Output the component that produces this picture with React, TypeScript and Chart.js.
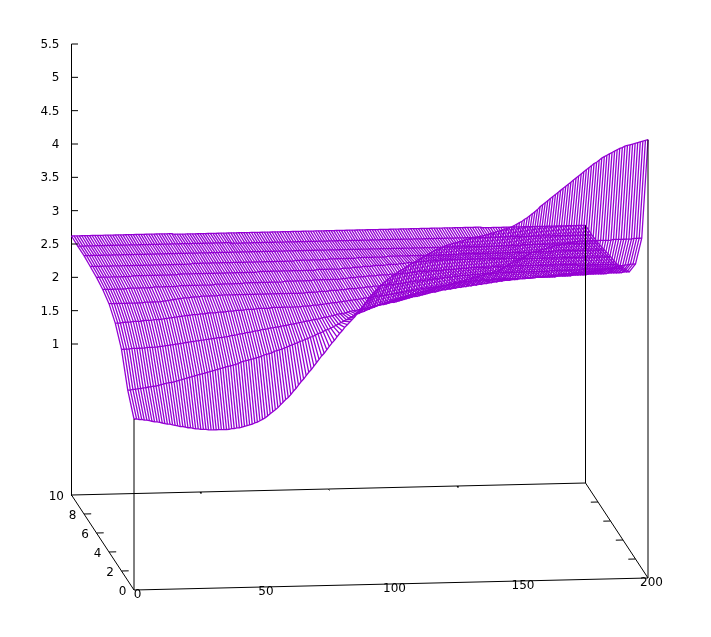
import React, { useEffect, useRef } from "react";
import { Chart, registerables } from "chart.js";

Chart.register(...registerables);

// Surface heights z, one list per y row (0..10), sampled at x = 0,1,...,200
const row0 = [
  1.30,1.30,1.29,1.29,1.28,1.28,1.27,1.26,1.25,1.25,
  1.24,1.23,1.22,1.21,1.21,1.20,1.19,1.18,1.17,1.17,
  1.16,1.15,1.15,1.14,1.13,1.13,1.12,1.12,1.12,1.11,
  1.11,1.11,1.11,1.11,1.11,1.11,1.11,1.11,1.12,1.12,
  1.13,1.13,1.14,1.15,1.16,1.17,1.18,1.20,1.21,1.23,
  1.25,1.27,1.30,1.33,1.36,1.39,1.42,1.46,1.50,1.54,
  1.57,1.61,1.66,1.70,1.75,1.80,1.84,1.89,1.94,1.98,
  2.03,2.08,2.13,2.18,2.22,2.27,2.32,2.37,2.41,2.46,
  2.51,2.55,2.60,2.64,2.68,2.72,2.76,2.81,2.86,2.91,
  2.96,3.01,3.06,3.10,3.14,3.18,3.22,3.25,3.28,3.31,
  3.34,3.37,3.39,3.42,3.44,3.46,3.49,3.51,3.53,3.55,
  3.58,3.60,3.62,3.64,3.66,3.68,3.70,3.72,3.74,3.75,
  3.77,3.79,3.80,3.81,3.82,3.83,3.84,3.85,3.86,3.87,
  3.88,3.89,3.90,3.91,3.91,3.92,3.93,3.94,3.95,3.96,
  3.97,3.98,3.99,4.00,4.01,4.03,4.04,4.05,4.07,4.09,
  4.11,4.13,4.16,4.18,4.21,4.24,4.27,4.30,4.34,4.37,
  4.40,4.43,4.46,4.49,4.52,4.55,4.58,4.61,4.64,4.67,
  4.70,4.73,4.76,4.79,4.82,4.85,4.88,4.91,4.94,4.97,
  4.99,5.02,5.05,5.07,5.09,5.11,5.13,5.15,5.17,5.19,
  5.20,5.22,5.23,5.24,5.25,5.26,5.27,5.28,5.29,5.30,
  5.31,
];
const row1 = [
  1.59,1.59,1.60,1.60,1.61,1.61,1.62,1.62,1.63,1.63,
  1.64,1.64,1.65,1.66,1.67,1.68,1.69,1.69,1.70,1.71,
  1.72,1.73,1.74,1.75,1.76,1.77,1.78,1.79,1.80,1.81,
  1.82,1.83,1.84,1.85,1.86,1.87,1.88,1.89,1.90,1.91,
  1.92,1.93,1.94,1.95,1.97,1.98,1.99,2.00,2.01,2.02,
  2.03,2.04,2.05,2.07,2.08,2.09,2.10,2.12,2.13,2.14,
  2.15,2.17,2.18,2.20,2.21,2.23,2.24,2.26,2.27,2.29,
  2.30,2.32,2.33,2.35,2.37,2.38,2.40,2.42,2.43,2.45,
  2.47,2.49,2.51,2.53,2.55,2.57,2.59,2.61,2.63,2.65,
  2.66,2.68,2.69,2.71,2.72,2.74,2.75,2.77,2.78,2.79,
  2.81,2.82,2.83,2.84,2.86,2.87,2.88,2.89,2.90,2.91,
  2.92,2.93,2.94,2.95,2.96,2.97,2.98,2.99,3.00,3.01,
  3.02,3.03,3.04,3.05,3.05,3.06,3.07,3.08,3.09,3.10,
  3.11,3.12,3.13,3.14,3.15,3.16,3.17,3.18,3.19,3.20,
  3.21,3.22,3.23,3.24,3.25,3.27,3.29,3.31,3.33,3.35,
  3.37,3.39,3.41,3.43,3.45,3.47,3.49,3.51,3.52,3.53,
  3.54,3.55,3.56,3.57,3.58,3.59,3.60,3.61,3.62,3.63,
  3.63,3.64,3.65,3.65,3.66,3.66,3.67,3.67,3.67,3.67,
  3.67,3.67,3.67,3.67,3.67,3.67,3.67,3.67,3.67,3.68,
  3.68,3.68,3.68,3.68,3.68,3.68,3.68,3.69,3.69,3.69,
  3.69,
];
const row2 = [
  2.06,2.06,2.06,2.06,2.07,2.07,2.07,2.07,2.07,2.07,
  2.08,2.08,2.08,2.08,2.08,2.09,2.09,2.10,2.10,2.11,
  2.11,2.12,2.12,2.13,2.13,2.14,2.14,2.15,2.15,2.16,
  2.16,2.17,2.17,2.18,2.18,2.19,2.19,2.20,2.20,2.20,
  2.21,2.21,2.22,2.23,2.23,2.24,2.25,2.25,2.26,2.27,
  2.27,2.28,2.29,2.29,2.30,2.31,2.31,2.32,2.33,2.33,
  2.34,2.34,2.35,2.36,2.36,2.37,2.38,2.38,2.39,2.40,
  2.40,2.41,2.42,2.42,2.43,2.44,2.44,2.45,2.46,2.47,
  2.47,2.48,2.49,2.50,2.51,2.52,2.52,2.53,2.54,2.55,
  2.56,2.56,2.57,2.58,2.59,2.59,2.60,2.61,2.62,2.62,
  2.63,2.64,2.64,2.65,2.66,2.67,2.67,2.68,2.69,2.70,
  2.71,2.72,2.73,2.74,2.75,2.75,2.76,2.77,2.78,2.79,
  2.80,2.81,2.81,2.82,2.83,2.84,2.84,2.85,2.85,2.86,
  2.86,2.87,2.87,2.88,2.88,2.89,2.89,2.90,2.90,2.91,
  2.91,2.92,2.92,2.93,2.93,2.94,2.94,2.95,2.95,2.96,
  2.96,2.96,2.97,2.97,2.97,2.98,2.98,2.98,2.99,2.99,
  2.99,2.99,3.00,3.00,3.00,3.01,3.01,3.01,3.02,3.02,
  3.02,3.03,3.03,3.04,3.04,3.04,3.05,3.05,3.05,3.06,
  3.06,3.06,3.07,3.07,3.07,3.08,3.08,3.09,3.09,3.10,
  3.10,3.11,3.12,3.13,3.14,3.14,3.15,3.15,3.16,3.16,
  3.16,
];
const row3 = [
  2.31,2.31,2.31,2.32,2.32,2.32,2.32,2.33,2.33,2.33,
  2.33,2.34,2.34,2.34,2.34,2.35,2.35,2.35,2.35,2.36,
  2.36,2.37,2.37,2.38,2.38,2.39,2.39,2.40,2.40,2.40,
  2.41,2.41,2.41,2.42,2.42,2.42,2.43,2.43,2.43,2.43,
  2.44,2.44,2.44,2.44,2.45,2.45,2.45,2.46,2.46,2.46,
  2.46,2.47,2.47,2.47,2.47,2.48,2.48,2.48,2.48,2.48,
  2.48,2.49,2.49,2.49,2.49,2.49,2.49,2.49,2.49,2.49,
  2.49,2.49,2.49,2.50,2.50,2.50,2.50,2.51,2.51,2.51,
  2.52,2.52,2.53,2.53,2.54,2.54,2.54,2.55,2.55,2.56,
  2.56,2.57,2.57,2.58,2.58,2.59,2.59,2.60,2.60,2.61,
  2.61,2.62,2.62,2.63,2.63,2.64,2.64,2.65,2.65,2.66,
  2.66,2.67,2.67,2.68,2.69,2.69,2.70,2.70,2.71,2.72,
  2.72,2.73,2.73,2.74,2.74,2.75,2.75,2.76,2.76,2.77,
  2.78,2.78,2.79,2.79,2.80,2.80,2.81,2.81,2.81,2.82,
  2.82,2.82,2.83,2.83,2.83,2.83,2.83,2.84,2.84,2.84,
  2.84,2.84,2.84,2.84,2.84,2.84,2.84,2.84,2.84,2.84,
  2.84,2.84,2.85,2.85,2.85,2.85,2.85,2.85,2.85,2.85,
  2.85,2.85,2.86,2.86,2.86,2.86,2.86,2.86,2.87,2.87,
  2.87,2.87,2.87,2.87,2.88,2.88,2.88,2.88,2.88,2.88,
  2.88,2.88,2.89,2.89,2.89,2.89,2.89,2.89,2.90,2.90,
  2.90,
];
const row4 = [
  2.46,2.46,2.46,2.46,2.46,2.46,2.46,2.46,2.46,2.46,
  2.46,2.46,2.46,2.46,2.47,2.47,2.47,2.47,2.47,2.47,
  2.47,2.48,2.48,2.49,2.49,2.50,2.50,2.51,2.51,2.52,
  2.52,2.52,2.53,2.53,2.53,2.53,2.54,2.54,2.54,2.54,
  2.54,2.54,2.54,2.55,2.55,2.55,2.55,2.55,2.55,2.55,
  2.55,2.55,2.55,2.55,2.55,2.55,2.55,2.55,2.55,2.55,
  2.55,2.55,2.55,2.55,2.55,2.55,2.55,2.55,2.55,2.55,
  2.55,2.55,2.55,2.55,2.55,2.55,2.55,2.56,2.56,2.56,
  2.56,2.56,2.57,2.57,2.57,2.57,2.58,2.58,2.58,2.58,
  2.59,2.59,2.59,2.60,2.60,2.60,2.60,2.61,2.61,2.61,
  2.62,2.62,2.62,2.63,2.63,2.63,2.64,2.64,2.64,2.65,
  2.65,2.65,2.66,2.66,2.66,2.67,2.67,2.68,2.68,2.69,
  2.69,2.69,2.70,2.70,2.71,2.71,2.72,2.72,2.72,2.73,
  2.73,2.74,2.74,2.74,2.75,2.75,2.75,2.76,2.76,2.76,
  2.76,2.77,2.77,2.77,2.77,2.78,2.78,2.78,2.78,2.78,
  2.78,2.78,2.79,2.79,2.79,2.79,2.79,2.79,2.79,2.79,
  2.79,2.79,2.79,2.79,2.79,2.79,2.79,2.79,2.79,2.79,
  2.79,2.79,2.80,2.80,2.80,2.80,2.80,2.80,2.80,2.80,
  2.80,2.80,2.80,2.80,2.81,2.81,2.81,2.81,2.81,2.81,
  2.81,2.81,2.81,2.81,2.81,2.81,2.81,2.81,2.81,2.81,
  2.82,
];
const row5 = [
  2.53,2.53,2.53,2.53,2.53,2.53,2.53,2.53,2.53,2.53,
  2.54,2.54,2.54,2.54,2.54,2.54,2.54,2.54,2.54,2.54,
  2.55,2.55,2.55,2.55,2.55,2.55,2.55,2.55,2.55,2.55,
  2.56,2.56,2.56,2.56,2.56,2.56,2.56,2.56,2.56,2.56,
  2.56,2.56,2.56,2.56,2.57,2.57,2.57,2.57,2.57,2.57,
  2.57,2.57,2.57,2.57,2.57,2.58,2.58,2.58,2.58,2.58,
  2.58,2.58,2.58,2.58,2.58,2.58,2.58,2.58,2.58,2.58,
  2.58,2.59,2.59,2.59,2.59,2.59,2.59,2.59,2.59,2.59,
  2.59,2.59,2.60,2.60,2.60,2.60,2.60,2.60,2.60,2.60,
  2.60,2.60,2.60,2.61,2.61,2.61,2.62,2.62,2.62,2.63,
  2.63,2.63,2.63,2.64,2.64,2.64,2.64,2.65,2.65,2.65,
  2.65,2.65,2.66,2.66,2.66,2.66,2.67,2.67,2.67,2.67,
  2.68,2.68,2.68,2.69,2.69,2.69,2.69,2.69,2.70,2.70,
  2.70,2.70,2.70,2.71,2.71,2.71,2.71,2.71,2.72,2.72,
  2.72,2.72,2.72,2.73,2.73,2.73,2.73,2.73,2.73,2.73,
  2.73,2.73,2.74,2.74,2.74,2.74,2.74,2.74,2.74,2.74,
  2.74,2.74,2.74,2.74,2.74,2.74,2.74,2.74,2.74,2.74,
  2.74,2.74,2.74,2.74,2.74,2.74,2.74,2.74,2.74,2.74,
  2.74,2.74,2.74,2.74,2.74,2.73,2.73,2.73,2.73,2.73,
  2.73,2.73,2.73,2.73,2.73,2.73,2.73,2.73,2.73,2.73,
  2.73,
];
const row6 = [
  2.57,2.57,2.57,2.57,2.57,2.57,2.57,2.57,2.57,2.57,
  2.57,2.57,2.57,2.57,2.58,2.58,2.58,2.58,2.58,2.58,
  2.58,2.58,2.58,2.58,2.58,2.58,2.58,2.58,2.58,2.58,
  2.58,2.58,2.59,2.59,2.59,2.59,2.59,2.59,2.59,2.59,
  2.59,2.59,2.59,2.59,2.59,2.59,2.59,2.59,2.59,2.59,
  2.59,2.59,2.59,2.59,2.59,2.59,2.59,2.59,2.59,2.59,
  2.59,2.59,2.59,2.60,2.60,2.60,2.60,2.60,2.60,2.60,
  2.60,2.60,2.60,2.60,2.60,2.60,2.60,2.60,2.60,2.60,
  2.60,2.60,2.60,2.60,2.60,2.60,2.61,2.61,2.61,2.61,
  2.61,2.61,2.61,2.61,2.61,2.61,2.62,2.62,2.62,2.62,
  2.63,2.63,2.63,2.63,2.64,2.64,2.64,2.64,2.65,2.65,
  2.65,2.65,2.65,2.66,2.66,2.66,2.66,2.66,2.67,2.67,
  2.67,2.68,2.68,2.68,2.68,2.69,2.69,2.69,2.69,2.70,
  2.70,2.70,2.70,2.70,2.71,2.71,2.71,2.71,2.71,2.71,
  2.71,2.71,2.71,2.71,2.71,2.71,2.71,2.71,2.71,2.71,
  2.71,2.71,2.71,2.71,2.71,2.71,2.71,2.71,2.71,2.71,
  2.71,2.71,2.71,2.71,2.70,2.70,2.70,2.70,2.70,2.70,
  2.70,2.70,2.70,2.70,2.70,2.70,2.70,2.70,2.70,2.70,
  2.70,2.70,2.70,2.70,2.70,2.70,2.70,2.70,2.70,2.70,
  2.70,2.70,2.70,2.70,2.70,2.70,2.70,2.70,2.70,2.70,
  2.70,
];
const row7 = [
  2.59,2.59,2.59,2.59,2.59,2.59,2.59,2.59,2.59,2.59,
  2.59,2.59,2.59,2.59,2.59,2.59,2.59,2.59,2.59,2.59,
  2.59,2.59,2.59,2.59,2.59,2.59,2.59,2.59,2.59,2.59,
  2.59,2.59,2.59,2.59,2.59,2.59,2.59,2.59,2.59,2.59,
  2.60,2.60,2.60,2.60,2.60,2.60,2.60,2.60,2.60,2.60,
  2.60,2.60,2.60,2.60,2.60,2.60,2.60,2.60,2.60,2.60,
  2.60,2.60,2.60,2.60,2.60,2.60,2.60,2.60,2.60,2.60,
  2.60,2.60,2.60,2.60,2.60,2.60,2.60,2.60,2.60,2.60,
  2.61,2.61,2.61,2.61,2.61,2.61,2.61,2.61,2.61,2.61,
  2.61,2.61,2.61,2.62,2.62,2.62,2.62,2.62,2.62,2.62,
  2.62,2.62,2.62,2.62,2.63,2.63,2.63,2.63,2.63,2.63,
  2.63,2.63,2.63,2.63,2.63,2.63,2.64,2.64,2.64,2.64,
  2.64,2.64,2.64,2.64,2.64,2.64,2.64,2.64,2.64,2.64,
  2.64,2.64,2.64,2.64,2.64,2.64,2.64,2.64,2.64,2.64,
  2.64,2.64,2.64,2.64,2.65,2.65,2.65,2.65,2.65,2.65,
  2.65,2.65,2.65,2.65,2.65,2.65,2.65,2.65,2.65,2.65,
  2.65,2.65,2.65,2.65,2.65,2.65,2.65,2.65,2.65,2.65,
  2.65,2.65,2.65,2.65,2.65,2.65,2.65,2.65,2.65,2.65,
  2.65,2.66,2.66,2.66,2.66,2.66,2.66,2.66,2.66,2.66,
  2.66,2.66,2.66,2.66,2.66,2.66,2.66,2.66,2.66,2.66,
  2.66,
];
const row8 = [
  2.61,2.61,2.61,2.61,2.61,2.61,2.61,2.61,2.61,2.61,
  2.61,2.61,2.61,2.61,2.61,2.61,2.61,2.61,2.61,2.61,
  2.61,2.61,2.61,2.61,2.61,2.61,2.61,2.61,2.61,2.61,
  2.61,2.61,2.61,2.61,2.61,2.61,2.61,2.61,2.61,2.61,
  2.61,2.61,2.61,2.61,2.61,2.61,2.61,2.61,2.61,2.61,
  2.61,2.61,2.61,2.61,2.61,2.61,2.61,2.61,2.61,2.61,
  2.61,2.61,2.61,2.61,2.61,2.61,2.61,2.61,2.61,2.61,
  2.61,2.61,2.61,2.61,2.61,2.61,2.61,2.61,2.61,2.61,
  2.61,2.61,2.61,2.61,2.61,2.61,2.61,2.61,2.61,2.61,
  2.61,2.61,2.61,2.61,2.61,2.61,2.61,2.61,2.61,2.61,
  2.61,2.61,2.61,2.61,2.61,2.61,2.61,2.61,2.61,2.61,
  2.61,2.61,2.61,2.61,2.61,2.61,2.61,2.61,2.61,2.61,
  2.61,2.61,2.61,2.61,2.61,2.61,2.61,2.61,2.61,2.61,
  2.61,2.61,2.61,2.61,2.61,2.61,2.61,2.61,2.61,2.61,
  2.61,2.61,2.61,2.61,2.61,2.61,2.61,2.61,2.61,2.61,
  2.61,2.61,2.61,2.61,2.61,2.61,2.61,2.61,2.61,2.61,
  2.61,2.61,2.61,2.61,2.61,2.61,2.61,2.61,2.61,2.61,
  2.62,2.62,2.62,2.62,2.62,2.62,2.62,2.62,2.62,2.62,
  2.62,2.62,2.62,2.62,2.62,2.62,2.62,2.62,2.62,2.62,
  2.62,2.62,2.62,2.62,2.62,2.62,2.62,2.62,2.62,2.62,
  2.62,
];
const row9 = [
  2.61,2.61,2.61,2.61,2.61,2.61,2.61,2.61,2.61,2.61,
  2.61,2.61,2.61,2.61,2.61,2.61,2.61,2.61,2.61,2.61,
  2.61,2.61,2.61,2.61,2.61,2.61,2.61,2.61,2.61,2.61,
  2.61,2.61,2.61,2.61,2.61,2.61,2.61,2.61,2.61,2.61,
  2.61,2.61,2.61,2.61,2.61,2.61,2.61,2.61,2.61,2.61,
  2.61,2.61,2.61,2.61,2.61,2.61,2.61,2.61,2.61,2.61,
  2.60,2.60,2.60,2.60,2.60,2.60,2.60,2.60,2.60,2.60,
  2.60,2.60,2.60,2.60,2.60,2.60,2.60,2.60,2.60,2.60,
  2.60,2.60,2.60,2.60,2.60,2.60,2.60,2.60,2.60,2.60,
  2.60,2.60,2.60,2.60,2.60,2.60,2.60,2.60,2.60,2.60,
  2.60,2.60,2.60,2.60,2.60,2.60,2.60,2.60,2.60,2.60,
  2.60,2.60,2.60,2.60,2.60,2.60,2.60,2.60,2.60,2.60,
  2.60,2.60,2.60,2.60,2.60,2.60,2.60,2.60,2.60,2.60,
  2.60,2.60,2.60,2.60,2.60,2.60,2.60,2.60,2.60,2.60,
  2.60,2.60,2.60,2.60,2.60,2.60,2.60,2.60,2.60,2.60,
  2.60,2.60,2.60,2.60,2.60,2.60,2.60,2.60,2.60,2.60,
  2.60,2.60,2.60,2.60,2.60,2.60,2.60,2.60,2.60,2.60,
  2.60,2.60,2.60,2.60,2.60,2.60,2.60,2.60,2.60,2.60,
  2.60,2.60,2.60,2.60,2.60,2.60,2.60,2.60,2.60,2.60,
  2.60,2.60,2.60,2.60,2.60,2.60,2.60,2.60,2.60,2.60,
  2.60,
];
const row10 = [
  2.62,2.62,2.62,2.62,2.62,2.62,2.62,2.62,2.62,2.62,
  2.62,2.62,2.62,2.62,2.62,2.62,2.62,2.62,2.62,2.62,
  2.62,2.62,2.62,2.62,2.62,2.62,2.62,2.62,2.62,2.62,
  2.62,2.62,2.62,2.62,2.62,2.62,2.62,2.62,2.62,2.62,
  2.61,2.61,2.61,2.61,2.61,2.61,2.61,2.61,2.61,2.61,
  2.61,2.61,2.61,2.61,2.61,2.61,2.61,2.61,2.61,2.61,
  2.61,2.61,2.61,2.61,2.61,2.61,2.61,2.61,2.61,2.61,
  2.61,2.61,2.61,2.61,2.61,2.61,2.61,2.61,2.61,2.61,
  2.61,2.61,2.61,2.61,2.61,2.61,2.61,2.61,2.61,2.61,
  2.61,2.61,2.61,2.61,2.61,2.61,2.61,2.61,2.61,2.61,
  2.61,2.61,2.61,2.61,2.61,2.61,2.61,2.61,2.61,2.61,
  2.61,2.61,2.61,2.61,2.61,2.61,2.61,2.61,2.61,2.61,
  2.61,2.61,2.61,2.61,2.61,2.61,2.61,2.61,2.61,2.61,
  2.61,2.61,2.61,2.61,2.61,2.61,2.61,2.61,2.61,2.61,
  2.61,2.61,2.61,2.61,2.61,2.61,2.61,2.61,2.61,2.61,
  2.61,2.61,2.61,2.61,2.61,2.61,2.61,2.61,2.61,2.61,
  2.60,2.60,2.60,2.60,2.60,2.60,2.60,2.60,2.60,2.60,
  2.60,2.60,2.60,2.60,2.60,2.60,2.60,2.60,2.60,2.60,
  2.60,2.60,2.60,2.60,2.60,2.60,2.60,2.60,2.60,2.60,
  2.60,2.60,2.60,2.60,2.60,2.60,2.60,2.60,2.60,2.60,
  2.60,
];
const surfaceRows = [row0, row1, row2, row3, row4, row5, row6, row7, row8, row9, row10];

const zTicks = [1, 1.5, 2, 2.5, 3, 3.5, 4, 4.5, 5, 5.5];
const xTicks = [0, 50, 100, 150, 200];
const yTicks = [0, 2, 4, 6, 8, 10];
const xMax = 200;
const yMax = 10;
const zBase = -1.265;
const zTop = 5.5;

const SURFACE = "#9400d3";
const SURFACE_WIDTH = 1.3;
const FONT = '12px "DejaVu Sans"';

// Axonometric view: screen position of a data triple, expressed in the chart's
// own scales (x scale runs in canvas units, y scale is the z axis at the back-left edge).
const AREA_LEFT = 71.5;
const AREA_TOP = 44;
const AREA_BOTTOM = 495;
const UNITS = (AREA_BOTTOM - AREA_TOP) / (zTop - zBase);

const flatX = (x: number, y: number) => 134 + 2.57 * x - 6.25 * y;
const flatY = (x: number, y: number) => 590 - 0.06 * x - 9.5 * y;
const project = (x: number, y: number, z: number) => ({
  x: flatX(x, y),
  y: z - (flatY(x, y) - AREA_BOTTOM) / UNITS,
});

const lineSet = (data: { x: number; y: number }[], color = "#000", width = 1) => ({
  data,
  borderColor: color,
  borderWidth: width,
  pointRadius: 0,
  showLine: true,
  tension: 0,
  clip: false,
});

const buildDatasets = () => {
  const frame = [
    [project(0, 0, zBase), project(xMax, 0, zBase)],
    [project(0, yMax, zBase), project(xMax, yMax, zBase)],
    [project(0, 0, zBase), project(0, yMax, zBase)],
    [project(xMax, 0, zBase), project(xMax, yMax, zBase)],
    [project(0, 0, zBase), project(0, 0, row0[0])],
    [project(xMax, 0, zBase), project(xMax, 0, row0[xMax])],
    [project(xMax, yMax, zBase), project(xMax, yMax, row10[xMax])],
  ];
  const yMarks = yTicks.slice(1, -1).flatMap((y) => [
    [project(0, y, zBase), project(2.8, y, zBase)],
    [project(xMax, y, zBase), project(xMax - 2.8, y, zBase)],
  ]);
  const xMarks = xTicks.slice(1, -1).map((x) => [project(x, yMax, zBase), project(x, yMax - 0.15, zBase)]);
  const zMarks = zTicks.map((z) => [{ x: AREA_LEFT, y: z }, { x: AREA_LEFT + 6.5, y: z }]);

  const rows = surfaceRows.map((row, y) => row.map((z, x) => project(x, y, z)));
  const cross = row0.map((_, x) => surfaceRows.map((row, y) => project(x, y, row[x])));

  return [
    ...[...frame, ...yMarks, ...xMarks, ...zMarks].map((d) => lineSet(d)),
    ...rows.map((d) => lineSet(d, SURFACE, SURFACE_WIDTH)),
    ...cross.map((d) => lineSet(d, SURFACE, SURFACE_WIDTH)),
  ];
};

const axisLabels = {
  id: "axisLabels",
  afterDraw(chart: any) {
    const { ctx, scales } = chart;
    const put = (text: string, p: { x: number; y: number }, dx: number, dy: number, align: CanvasTextAlign) => {
      ctx.textAlign = align;
      ctx.fillText(text, scales.x.getPixelForValue(p.x) + dx, scales.y.getPixelForValue(p.y) + dy);
    };
    ctx.save();
    ctx.font = FONT;
    ctx.fillStyle = "#000";
    ctx.textBaseline = "middle";
    xTicks.forEach((x) => put(String(x), project(x, 0, zBase), 3.5, 5, "center"));
    yTicks.forEach((y) => put(String(y), project(0, y, zBase), -7.5, 1.5, "right"));
    ctx.restore();
  },
};

export default function App() {
  const ref = useRef<HTMLCanvasElement | null>(null);
  useEffect(() => {
    if (!ref.current) return;
    const chart = new Chart(ref.current, {
      type: "scatter",
      data: { datasets: buildDatasets() as any },
      plugins: [axisLabels],
      options: {
        animation: false,
        responsive: false,
        devicePixelRatio: 1,
        layout: { padding: { top: AREA_TOP, bottom: 637 - AREA_BOTTOM, left: 0, right: 0 } },
        plugins: { legend: { display: false }, tooltip: { enabled: false } },
        events: [],
        scales: {
          x: { type: "linear", display: false, min: AREA_LEFT, max: 711 },
          y: {
            type: "linear",
            position: "left",
            min: zBase,
            max: zTop,
            afterFit: (s: any) => {
              s.width = AREA_LEFT;
            },
            afterBuildTicks: (s: any) => {
              s.ticks = zTicks.map((value) => ({ value }));
            },
            border: { display: true, color: "#000", width: 1 },
            grid: { display: true, drawOnChartArea: false, drawTicks: false },
            ticks: {
              padding: 12,
              labelOffset: 1,
              color: "#000",
              autoSkip: false,
              font: { family: "DejaVu Sans", size: 12 },
              callback: (v: any) => String(v),
            },
          },
        },
      } as any,
    });
    return () => chart.destroy();
  }, []);
  return (
    <canvas
      ref={ref}
      width={711}
      height={637}
      style={{ position: "absolute", left: 0, top: 0, display: "block", background: "#fff" }}
    />
  );
}
